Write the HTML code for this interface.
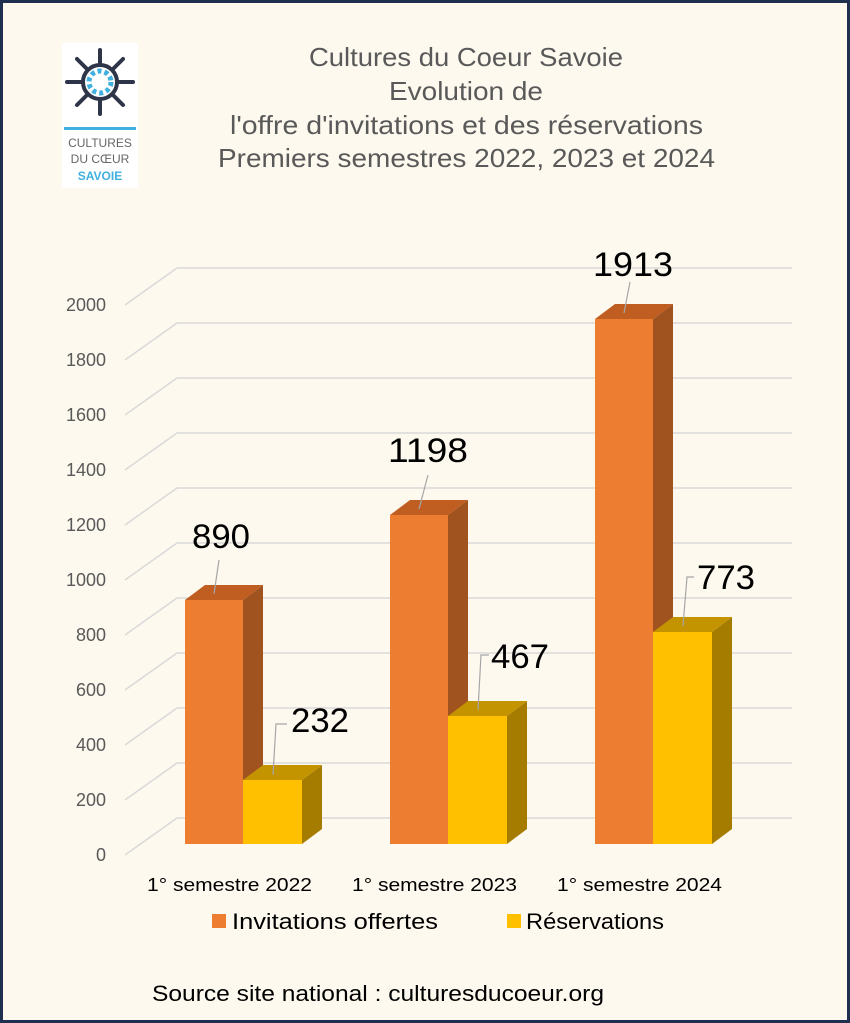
<!DOCTYPE html>
<html><head><meta charset="utf-8"><style>
html,body{margin:0;padding:0}
body{width:850px;height:1023px;background:#fdf9ee;font-family:"Liberation Sans",sans-serif}
svg{display:block}
</style></head><body>
<svg width="850" height="1023" viewBox="0 0 850 1023" font-family="Liberation Sans, DejaVu Sans, sans-serif">
<rect x="0" y="0" width="850" height="1023" fill="#fdf9ee"/>
<rect x="1.5" y="1.5" width="847" height="1020" fill="none" stroke="#1f2f4f" stroke-width="3"/>
<!-- logo -->
<rect x="62" y="43" width="76" height="145" fill="#ffffff"/>
<g stroke="#2f3548" stroke-width="4" stroke-linecap="round">
<line x1="100" y1="50" x2="100" y2="64"/><line x1="100" y1="114" x2="100" y2="100"/>
<line x1="67" y1="82" x2="81" y2="82"/><line x1="133" y1="82" x2="119" y2="82"/>
<line x1="77" y1="59" x2="87" y2="69"/><line x1="123" y1="105" x2="113" y2="95"/>
<line x1="123" y1="59" x2="113" y2="69"/><line x1="77" y1="105" x2="87" y2="95"/>
</g>
<circle cx="100" cy="82" r="17" fill="none" stroke="#2f3548" stroke-width="4"/>
<circle cx="100" cy="82" r="11" fill="none" stroke="#3fb0e0" stroke-width="5" stroke-dasharray="4 3"/>
<rect x="64" y="127" width="72" height="3" fill="#3fb0e0"/>
<text x="100" y="147" font-size="12" fill="#666" text-anchor="middle">CULTURES</text>
<text x="100" y="163" font-size="12" fill="#666" text-anchor="middle">DU CŒUR</text>
<text x="100" y="180" font-size="12" font-weight="bold" fill="#3fb0e0" text-anchor="middle">SAVOIE</text>
<!-- title -->
<g font-size="26" fill="#595959" lengthAdjust="spacingAndGlyphs">
<text x="309" y="66" textLength="314" lengthAdjust="spacingAndGlyphs">Cultures du Coeur Savoie</text>
<text x="389" y="100" textLength="154" lengthAdjust="spacingAndGlyphs">Evolution de</text>
<text x="230" y="134" textLength="473" lengthAdjust="spacingAndGlyphs">l'offre d'invitations et des réservations</text>
<text x="218" y="167" textLength="497" lengthAdjust="spacingAndGlyphs">Premiers semestres 2022, 2023 et 2024</text>
</g>
<!-- grid -->
<g stroke="#d9d9d9" stroke-width="1.5" fill="none">
<polyline points="125,855 177,818 792,818"/>
<polyline points="125,800 177,763 792,763"/>
<polyline points="125,745 177,708 792,708"/>
<polyline points="125,690 177,653 792,653"/>
<polyline points="125,635 177,598 792,598"/>
<polyline points="125,580 177,543 792,543"/>
<polyline points="125,525 177,488 792,488"/>
<polyline points="125,470 177,433 792,433"/>
<polyline points="125,415 177,378 792,378"/>
<polyline points="125,360 177,323 792,323"/>
<polyline points="125,305 177,268 792,268"/>
</g>
<g font-size="18" fill="#595959" text-anchor="end">
<text x="106" y="861">0</text><text x="106" y="806">200</text><text x="106" y="751">400</text>
<text x="106" y="696">600</text><text x="106" y="641">800</text><text x="106" y="586">1000</text>
<text x="106" y="531">1200</text><text x="106" y="476">1400</text><text x="106" y="421">1600</text>
<text x="106" y="366">1800</text><text x="106" y="311">2000</text>
</g>
<!-- bars: orange -->
<g>
<polygon points="243,600 263,585 263,829 243,844" fill="#a0521f"/>
<polygon points="185,600 205,585 263,585 243,600" fill="#c05e22"/>
<rect x="185" y="600" width="58" height="244" fill="#ed7d31"/>
<polygon points="448,515 468,500 468,829 448,844" fill="#a0521f"/>
<polygon points="390,515 410,500 468,500 448,515" fill="#c05e22"/>
<rect x="390" y="515" width="58" height="329" fill="#ed7d31"/>
<polygon points="653,319 673,304 673,829 653,844" fill="#a0521f"/>
<polygon points="595,319 615,304 673,304 653,319" fill="#c05e22"/>
<rect x="595" y="319" width="58" height="525" fill="#ed7d31"/>
</g>
<!-- yellow -->
<g>
<polygon points="302,780 322,765 322,829 302,844" fill="#a67c00"/>
<polygon points="243,780 263,765 322,765 302,780" fill="#c49300"/>
<rect x="243" y="780" width="59" height="64" fill="#ffc000"/>
<polygon points="507,716 527,701 527,829 507,844" fill="#a67c00"/>
<polygon points="448,716 468,701 527,701 507,716" fill="#c49300"/>
<rect x="448" y="716" width="59" height="128" fill="#ffc000"/>
<polygon points="712,632 732,617 732,829 712,844" fill="#a67c00"/>
<polygon points="653,632 673,617 732,617 712,632" fill="#c49300"/>
<rect x="653" y="632" width="59" height="212" fill="#ffc000"/>
</g>
<!-- leader lines -->
<g stroke="#a6a6a6" stroke-width="1.2" fill="none">
<line x1="214" y1="594" x2="219" y2="560"/>
<line x1="419" y1="509" x2="428" y2="475"/>
<line x1="624" y1="313" x2="630" y2="282"/>
<polyline points="273,775 276,724 287,724"/>
<polyline points="478,710 481,655 489,655"/>
<polyline points="683,626 687,577 694,577"/>
</g>
<g font-size="34" fill="#000">
<text x="192" y="548" textLength="58" lengthAdjust="spacingAndGlyphs">890</text>
<text x="388" y="462" textLength="80" lengthAdjust="spacingAndGlyphs">1198</text>
<text x="593" y="276" textLength="80" lengthAdjust="spacingAndGlyphs">1913</text>
<text x="291" y="732" textLength="58" lengthAdjust="spacingAndGlyphs">232</text>
<text x="491" y="668" textLength="58" lengthAdjust="spacingAndGlyphs">467</text>
<text x="697" y="589" textLength="58" lengthAdjust="spacingAndGlyphs">773</text>
</g>
<g font-size="18" fill="#000">
<text x="147" y="891" textLength="165" lengthAdjust="spacingAndGlyphs">1° semestre 2022</text>
<text x="352" y="891" textLength="165" lengthAdjust="spacingAndGlyphs">1° semestre 2023</text>
<text x="557" y="891" textLength="165" lengthAdjust="spacingAndGlyphs">1° semestre 2024</text>
</g>
<rect x="212" y="914" width="14" height="14" fill="#ed7d31"/>
<text x="232" y="929" font-size="22" fill="#000" textLength="206" lengthAdjust="spacingAndGlyphs">Invitations offertes</text>
<rect x="507" y="914" width="14" height="14" fill="#ffc000"/>
<text x="526" y="929" font-size="22" fill="#000" textLength="138" lengthAdjust="spacingAndGlyphs">Réservations</text>
<text x="152" y="1001" font-size="22" fill="#000" textLength="452" lengthAdjust="spacingAndGlyphs">Source site national : culturesducoeur.org</text>
</svg>
</body></html>
